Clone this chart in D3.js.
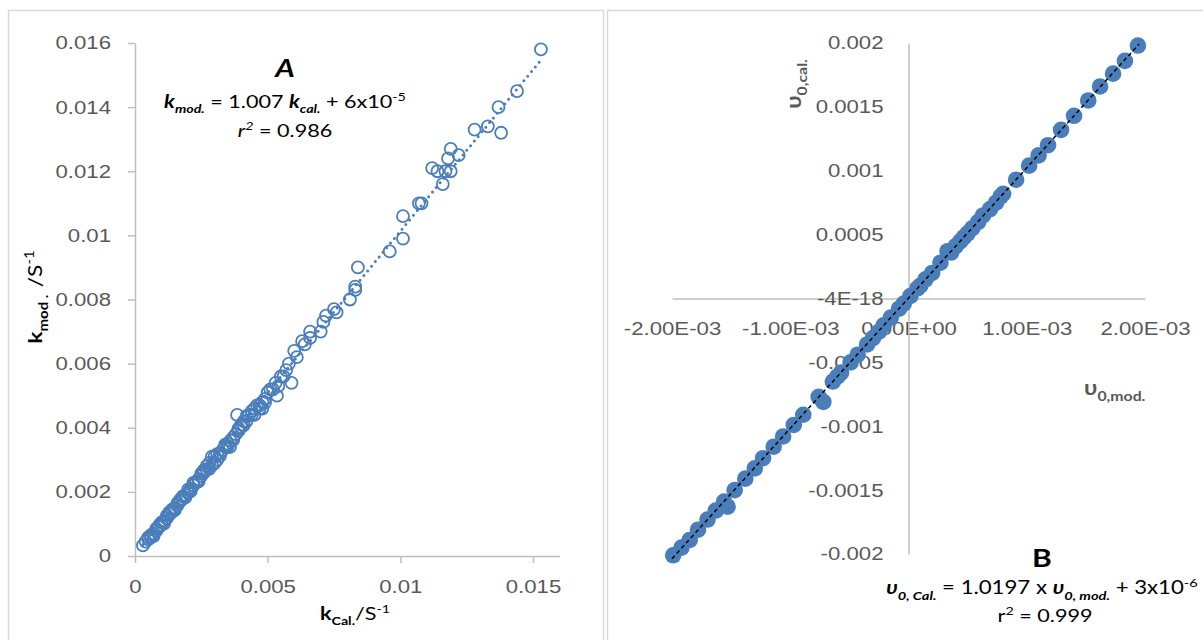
<!DOCTYPE html>
<html>
<head>
<meta charset="utf-8">
<script src="https://cdn.jsdelivr.net/npm/d3@7"></script>
<style>
  body { margin: 0; background: #fff; }
  svg { display: block; font-family: Lato, "Open Sans", sans-serif; }
  text { white-space: pre; }
</style>
</head>
<body>
<svg id="chart" width="1203" height="640"></svg>
<script>
// painel A: k calculado x k modelo
const kCal = [0.0003,0.0004,0.0005,0.0006,0.0006,0.0007,0.0008,0.0008,0.0009,0.001,0.001,0.0011,0.0012,0.0012,0.0013,0.0014,0.0014,0.0015,0.0016,0.0016,
  0.0017,0.0018,0.0018,0.0019,0.002,0.002,0.0021,0.0022,0.0023,0.0024,0.0025,0.0025,0.0026,0.0027,0.0027,0.0028,0.0029,0.003,0.003,0.0031,
  0.0032,0.0033,0.0034,0.0035,0.0036,0.00358,0.0037,0.0038,0.00385,0.0039,0.004,0.0041,0.0042,0.0043,0.0044,0.0045,0.0046,0.0047,0.0048,0.0048,
  0.0049,0.005,0.0052,0.0053,0.00535,0.0055,0.0056,0.0058,0.0059,0.006,0.0061,0.0063,0.0064,0.0066,0.0066,0.007,0.0071,0.0072,0.0075,0.0076,
  0.0081,0.0083,0.0083,0.0084,0.0096,0.0101,0.0101,0.0107,0.0108,0.0112,0.0114,0.0116,0.0117,0.0119,0.0118,0.0119,0.0122,0.0128,0.0133,0.0137,
  0.0138,0.0144,0.0153,
  0.0005,0.0007,0.0009,0.0011,0.0013,0.0015,0.0017,0.0019,0.0021,0.0022,0.0024,0.0026,0.0028,0.0029,0.0031,0.0032,0.0034,0.0035,0.0037,0.0039,
  0.004,0.0041,0.0042,0.0044,0.0045,0.0047,0.0049,0.0051,0.0054,0.0057];
const kMod = [0.00033,0.00045,0.00052,0.00058,0.00065,0.0007,0.00078,0.00085,0.0009,0.00097,0.00105,0.0011,0.00118,0.00126,0.0013,0.00138,0.00145,0.0015,0.00158,0.00165,
  0.0017,0.00178,0.00186,0.0019,0.00198,0.00207,0.0021,0.0022,0.0023,0.0024,0.0025,0.00258,0.0026,0.0027,0.0028,0.0029,0.0031,0.0031,0.0029,0.003,
  0.0032,0.0033,0.0034,0.0035,0.0036,0.0034,0.0037,0.0038,0.0044,0.0039,0.0041,0.0042,0.0042,0.0044,0.0044,0.0046,0.0047,0.0047,0.0048,0.0046,
  0.0049,0.0051,0.0052,0.0054,0.005,0.0056,0.0056,0.006,0.0054,0.0064,0.0062,0.0067,0.0066,0.007,0.0068,0.007,0.0073,0.0075,0.0077,0.0076,
  0.008,0.0084,0.0083,0.009,0.0095,0.0099,0.0106,0.011,0.011,0.0121,0.012,0.0116,0.012,0.012,0.0124,0.0127,0.0125,0.0133,0.0134,0.014,
  0.0132,0.0145,0.0158,
  0.00058,0.00062,0.00095,0.00102,0.00137,0.00143,0.00176,0.00183,0.00202,0.00228,0.00233,0.00268,0.00272,0.00283,0.00318,0.00312,0.00347,0.00342,0.00362,0.00397,
  0.00402,0.00408,0.00436,0.00452,0.0044,0.0046,0.00478,0.0052,0.0053,0.0058];
const ticksA_x = [0, 0.005, 0.01, 0.015];
const labelsA_x = ["0", "0.005", "0.01", "0.015"];
const ticksA_y = [0, 0.002, 0.004, 0.006, 0.008, 0.01, 0.012, 0.014, 0.016];
const labelsA_y = ["0", "0.002", "0.004", "0.006", "0.008", "0.01", "0.012", "0.014", "0.016"];
const fitA = { slope: 1.007, intercept: 6e-5 };

// painel B: v0 modelo x v0 calculado
const v0Mod = [-0.00199,-0.00192,-0.00185,-0.00178,-0.0017,-0.00163,-0.00156,-0.00153,-0.00147,-0.00138,-0.0013,-0.00123,-0.00114,-0.00106,-0.00097,-0.00089,
  -0.00076,-0.00072,-0.00064,-0.0006,-0.00057,-0.00049,-0.00043,-0.00035,-0.0003,-0.00025,-0.00021,-0.00015,-0.00008,-0.00004,0.000017,0.000076,0.0001,
  0.000144,0.0002,0.00027,0.00033,0.00036,0.0004,0.00044,0.00047,0.0005,0.00054,0.00059,0.00063,0.00069,0.00074,0.00078,0.0008,0.00091,0.00102,
  0.0011,0.00118,0.00129,0.0014,0.00152,0.00162,0.00173,0.00183,0.00194];
const v0Cal = [-0.00201,-0.00195,-0.00189,-0.00181,-0.00173,-0.00166,-0.00159,-0.00163,-0.0015,-0.00141,-0.00133,-0.00125,-0.00116,-0.00108,-0.00099,-0.00091,
  -0.00077,-0.00081,-0.00065,-0.00061,-0.00058,-0.0005,-0.00044,-0.00036,-0.00031,-0.00026,-0.00021,-0.00015,-0.00008,-0.00004,0.00002,0.00008,0.0001,
  0.00015,0.0002,0.00028,0.00037,0.00036,0.00041,0.00045,0.00048,0.00051,0.00055,0.0006,0.00065,0.0007,0.00075,0.0008,0.00082,0.00093,0.00104,
  0.00112,0.0012,0.00132,0.00143,0.00155,0.00166,0.00176,0.00186,0.00198];
const ticksB_x = [-0.002, -0.001, 0, 0.001, 0.002];
const labelsB_x = ["-2.00E-03", "-1.00E-03", "0.00E+00", "1.00E-03", "2.00E-03"];
const ticksB_y = [0.002, 0.0015, 0.001, 0.0005, 0, -0.0005, -0.001, -0.0015, -0.002];
const labelsB_y = ["0.002", "0.0015", "0.001", "0.0005", "-4E-18", "-0.0005", "-0.001", "-0.0015", "-0.002"];
const fitB = { slope: 1.0197, intercept: 3e-6 };

const blue = "#4a7ebb";
const tickColor = "#595959";
const axisColor = "#bfbfbf";
const tickFont = 18.5;
const stretch = 1.2; // o texto do original é mais largo que alto

const svg = d3.select("#chart");

// texto com sub/sobrescrito
function rich(sel, x, y, size, parts, anchor) {
  const t = sel.append("g")
    .attr("transform", `translate(${x},${y}) scale(${stretch},1)`)
    .append("text")
    .attr("text-anchor", anchor || "middle")
    .attr("font-size", size);
  let shift = 0;
  parts.forEach(p => {
    const off = p.sub ? size * 0.3 : p.sup ? -size * 0.4 : 0;
    t.append("tspan")
      .attr("dy", off - shift)
      .attr("font-size", (p.sub || p.sup) ? size * 0.66 : size)
      .attr("font-weight", p.b ? "bold" : null)
      .attr("font-style", p.i ? "italic" : null)
      .text(p.t);
    shift = off;
  });
  return t;
}

function styleTicks(g, dx) {
  g.selectAll("text")
    .attr("fill", tickColor).attr("font-size", tickFont).attr("font-family", null)
    .attr("transform", `scale(${stretch},1)`);
  if (dx !== undefined) g.selectAll("text").attr("x", dx / stretch);
}

// molduras
svg.append("rect").attr("x", 8.5).attr("y", 10.5).attr("width", 595).attr("height", 640)
  .attr("fill", "none").attr("stroke", "#d9d9d9").attr("stroke-width", 1.5);
svg.append("rect").attr("x", 607.5).attr("y", 10.5).attr("width", 600).attr("height", 640)
  .attr("fill", "none").attr("stroke", "#d9d9d9").attr("stroke-width", 1.5);

// ---------- A ----------
const xA = d3.scaleLinear().domain([0, 0.016]).range([135, 559.5]);
const yA = d3.scaleLinear().domain([0, 0.016]).range([556, 43]);

const gA = svg.append("g");

gA.append("g")
  .attr("transform", `translate(0,${yA(0)})`)
  .call(d3.axisBottom(xA).tickValues(ticksA_x).tickSize(7).tickSizeOuter(0).tickPadding(17)
    .tickFormat((d, i) => labelsA_x[i]))
  .call(g => styleTicks(g))
  .call(g => g.selectAll("line, path").attr("stroke", axisColor).attr("stroke-width", 1.5));

gA.append("g")
  .attr("transform", `translate(${xA(0)},0)`)
  .call(d3.axisLeft(yA).tickValues(ticksA_y).tickSize(7).tickSizeOuter(0)
    .tickFormat((d, i) => labelsA_y[i]))
  .call(g => styleTicks(g, -24))
  .call(g => g.selectAll("line, path").attr("stroke", axisColor).attr("stroke-width", 1.5));

// linha de tendência pontilhada
const xMinA = d3.min(kCal), xMaxA = d3.max(kCal);
gA.append("line")
  .attr("x1", xA(xMinA)).attr("y1", yA(fitA.slope * xMinA + fitA.intercept))
  .attr("x2", xA(xMaxA)).attr("y2", yA(fitA.slope * xMaxA + fitA.intercept))
  .attr("stroke", blue).attr("stroke-width", 3)
  .attr("stroke-linecap", "round").attr("stroke-dasharray", "0,6");

gA.append("g").selectAll("circle")
  .data(kCal)
  .enter().append("circle")
    .attr("cx", d => xA(d))
    .attr("cy", (d, i) => yA(kMod[i]))
    .attr("r", 6)
    .attr("fill", "none")
    .attr("stroke", blue)
    .attr("stroke-width", 1.8);

// títulos dos eixos A
rich(gA, 355, 620, 18, [{t: "k", b: true}, {t: "Cal.", b: true, sub: true}, {t: "/S"}, {t: "-1", sup: true}]);
rich(gA.append("g").attr("transform", "translate(42,297) rotate(-90)"), 0, 0, 19,
  [{t: "k", b: true}, {t: "mod", b: true, sub: true}, {t: " .  ", b: true, sub: true}, {t: "/S"}, {t: "-1", sup: true}]);

// equação A
rich(gA, 285, 77, 25, [{t: "A", b: true, i: true}]);
rich(gA, 285, 108, 18, [{t: "k", b: true, i: true}, {t: "mod.", b: true, i: true, sub: true}, {t: " = 1.007 "},
  {t: "k", b: true, i: true}, {t: "cal.", b: true, i: true, sub: true}, {t: " + 6x10"}, {t: "-5", sup: true}]);
rich(gA, 285, 137, 18, [{t: "r", i: true}, {t: "2", i: true, sup: true}, {t: " = 0.986"}]);

// ---------- B ----------
const xB = d3.scaleLinear().domain([-0.002, 0.002]).range([672, 1145]);
const yB = d3.scaleLinear().domain([-0.002, 0.002]).range([554, 43]);

const gB = svg.append("g");

gB.append("g")
  .attr("transform", `translate(0,${yB(0)})`)
  .call(d3.axisBottom(xB).tickValues(ticksB_x).tickSize(0).tickPadding(23)
    .tickFormat((d, i) => labelsB_x[i]))
  .call(g => styleTicks(g))
  .call(g => g.selectAll("path").attr("stroke", axisColor).attr("stroke-width", 1.5));

gB.append("g")
  .attr("transform", `translate(${xB(0)},0)`)
  .call(d3.axisLeft(yB).tickValues(ticksB_y).tickSize(0)
    .tickFormat((d, i) => labelsB_y[i]))
  .call(g => styleTicks(g, -25))
  .call(g => g.selectAll("path").attr("stroke", axisColor).attr("stroke-width", 1.5));

gB.append("g").selectAll("circle")
  .data(v0Mod)
  .enter().append("circle")
    .attr("cx", d => xB(d))
    .attr("cy", (d, i) => yB(v0Cal[i]))
    .attr("r", 8.3)
    .attr("fill", blue);

// linha de tendência tracejada
gB.append("line")
  .attr("x1", xB(-0.002)).attr("y1", yB(fitB.slope * -0.002 + fitB.intercept))
  .attr("x2", xB(0.00195)).attr("y2", yB(fitB.slope * 0.00195 + fitB.intercept))
  .attr("stroke", "#000").attr("stroke-width", 1.5).attr("stroke-dasharray", "4,3");

// títulos dos eixos B
rich(gB, 1084, 395, 20, [{t: "υ", b: true}, {t: "0,mod.", b: true, sub: true}], "start")
  .attr("fill", tickColor);
rich(gB.append("g").attr("transform", "translate(801,84) rotate(-90)"), 0, 0, 20,
  [{t: "υ", b: true}, {t: "0,cal.", b: true, sub: true}]).attr("fill", tickColor);

// equação B
rich(gB, 1042, 567, 25, [{t: "B", b: true}]);
rich(gB, 1042, 594, 18.5, [{t: "υ", b: true, i: true}, {t: "0, Cal.", b: true, i: true, sub: true}, {t: " = 1.0197 x "},
  {t: "υ", b: true, i: true}, {t: "0, mod.", b: true, i: true, sub: true}, {t: " + 3x10"}, {t: "-6", sup: true}]);
rich(gB, 1045, 622, 18, [{t: "r"}, {t: "2", sup: true}, {t: " = 0.999"}]);
</script>
</body>
</html>
